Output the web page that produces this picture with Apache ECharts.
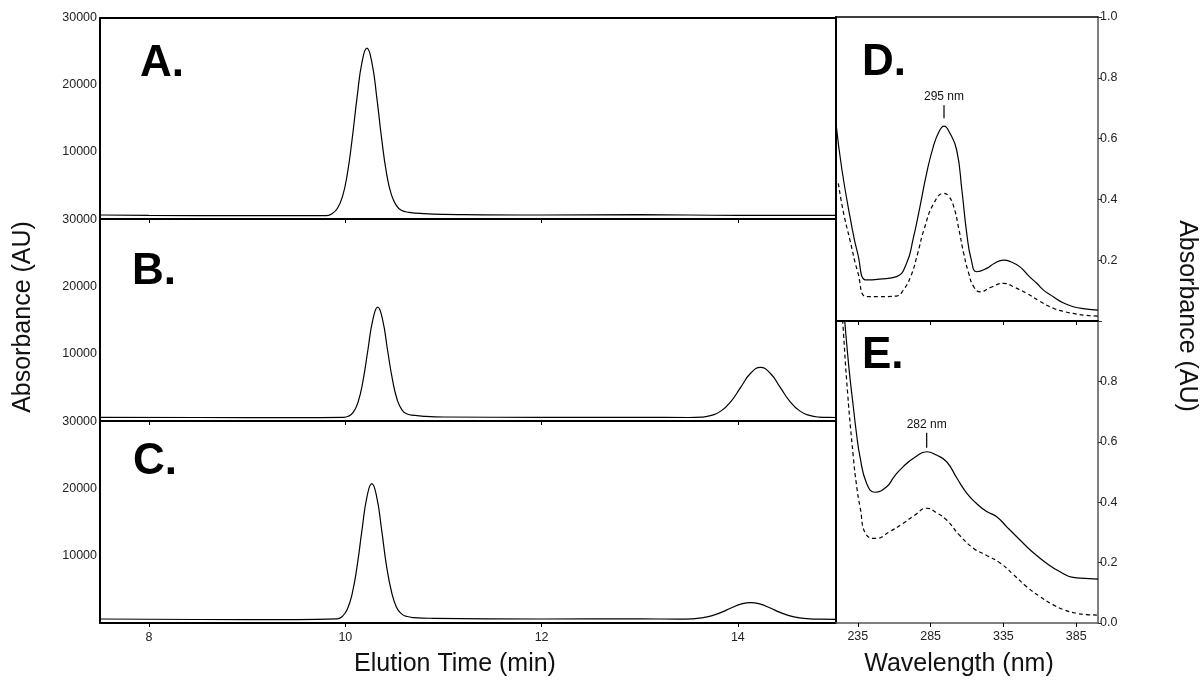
<!DOCTYPE html>
<html>
<head>
<meta charset="utf-8">
<title>HPLC and UV spectra</title>
<script src="https://cdn.jsdelivr.net/npm/echarts@6/dist/echarts.min.js"></script>
<style>
  html, body { margin: 0; padding: 0; background: #fff; }
  #main { width: 1201px; height: 685px; }
</style>
</head>
<body>
<div id="main"></div>
<script>
// chromatograms: [elution time (min), absorbance]
var traceA = [
  [7.5, 600], [8, 550], [9, 500], [9.8, 500], [9.87, 850], [9.92, 1600], [9.97, 3300],
  [10.02, 6700], [10.07, 12000], [10.12, 18200], [10.17, 23400], [10.22, 25500],
  [10.27, 23400], [10.32, 18200], [10.37, 12000], [10.42, 6800], [10.47, 3600],
  [10.52, 2000], [10.57, 1300], [10.65, 1000], [10.8, 800], [11, 700], [12, 600],
  [13, 650], [14, 550], [15, 550]
];
var traceB = [
  [7.5, 550], [8.5, 520], [9.5, 500], [9.98, 550], [10.03, 700], [10.08, 1280],
  [10.13, 2830], [10.18, 6000], [10.23, 10600], [10.28, 15100], [10.33, 17000],
  [10.38, 15100], [10.43, 10600], [10.48, 6200], [10.53, 3100], [10.58, 1600],
  [10.63, 1050], [10.7, 850], [10.8, 700], [11, 600], [12, 550], [13, 550],
  [13.5, 520], [13.63, 580], [13.73, 830], [13.83, 1510], [13.93, 2940], [14.03, 5050],
  [14.13, 7120], [14.23, 8000], [14.33, 7120], [14.43, 5050], [14.53, 2940],
  [14.63, 1510], [14.73, 830], [14.83, 580], [14.93, 530], [15, 520]
];
var traceC = [
  [7.5, 600], [8.5, 520], [9.5, 500], [9.92, 620], [9.97, 990], [10.02, 2050],
  [10.07, 4400], [10.12, 8500], [10.17, 13900], [10.22, 18800], [10.27, 20800],
  [10.32, 18800], [10.37, 13900], [10.42, 8500], [10.47, 4700], [10.52, 2400],
  [10.57, 1400], [10.62, 1000], [10.7, 800], [10.9, 700], [12, 600], [13, 620],
  [13.4, 570], [13.53, 620], [13.63, 760], [13.73, 1060], [13.83, 1580], [13.93, 2230],
  [14.03, 2810], [14.13, 3050], [14.23, 2810], [14.33, 2230], [14.43, 1580],
  [14.53, 1060], [14.63, 760], [14.73, 620], [14.83, 570], [15, 550]
];

// UV spectra: [wavelength (nm), absorbance]
var specDsolid = [
  [220, 0.65], [224, 0.5], [229.6, 0.343], [235, 0.22], [241, 0.135], [250, 0.138],
  [261.6, 0.146], [268.5, 0.19], [273, 0.27], [277.7, 0.376], [282, 0.48], [286.8, 0.573],
  [291, 0.625], [294.2, 0.641], [298, 0.62], [302.9, 0.5625], [306.5, 0.43], [309.8, 0.289],
  [313, 0.2], [316.7, 0.162], [323.5, 0.173], [329, 0.19], [335, 0.2], [340, 0.195],
  [346.4, 0.178], [352, 0.15], [357.9, 0.124], [363, 0.1], [369.3, 0.08], [376, 0.06],
  [383, 0.047], [391, 0.04], [400, 0.036]
];
var specDdash = [
  [221.6, 0.453], [225, 0.36], [229.6, 0.266], [235, 0.16], [241, 0.08], [250, 0.08],
  [261.6, 0.082], [266, 0.1], [271.3, 0.146], [276, 0.22], [280.4, 0.3], [287.3, 0.388],
  [294.2, 0.42], [297.5, 0.41], [300.9, 0.376], [304.5, 0.3], [307.7, 0.223], [311, 0.16],
  [314.6, 0.113], [319.2, 0.096], [326, 0.11], [335, 0.124], [343, 0.11], [351, 0.091],
  [360, 0.065], [369.3, 0.042], [376, 0.032], [383, 0.025], [391, 0.019], [400, 0.016]
];
var specEsolid = [
  [224, 1.12], [226, 1.0], [229, 0.84], [231.9, 0.716], [234, 0.63], [236.5, 0.55],
  [241, 0.463], [246.8, 0.433], [254.8, 0.451], [260, 0.485], [266.2, 0.518], [274, 0.548],
  [282.3, 0.567], [289, 0.556], [296, 0.534], [303, 0.48], [309.8, 0.43], [316, 0.398],
  [323.5, 0.369], [330.4, 0.352], [338, 0.315], [346.4, 0.275], [355, 0.235], [364.7, 0.198],
  [373, 0.172], [383, 0.151], [391, 0.148], [400, 0.145]
];
var specEdash = [
  [223, 1.12], [224.6, 1.0], [228, 0.76], [231.9, 0.55], [234, 0.46], [236.5, 0.385],
  [241, 0.291], [247.8, 0.28], [256, 0.3], [266.2, 0.33], [274, 0.357], [282.3, 0.38],
  [289, 0.365], [296, 0.341], [305, 0.29], [314.6, 0.247], [323, 0.225], [332.9, 0.198],
  [342, 0.16], [351, 0.12], [360, 0.088], [369.3, 0.06], [377, 0.043], [385.3, 0.032],
  [392, 0.028], [400, 0.026]
];

var timeTicks = [8, 10, 12, 14];
var waveTicks = [235, 285, 335, 385];
var peakD = { nm: 294.2, abs: 0.641, text: '295 nm' };
var peakE = { nm: 282.3, abs: 0.567, text: '282 nm' };

var chart = echarts.init(document.getElementById('main'));
var font = 'Liberation Sans, Arial, sans-serif';

function timeAxis(grid, withLabels) {
  return {
    type: 'value', gridIndex: grid, position: 'bottom', min: 7.5, max: 15,
    axisLine: { lineStyle: { color: '#000', width: 2 } },
    axisTick: { show: true, length: 4, customValues: timeTicks, lineStyle: { color: '#000', width: 1 } },
    axisLabel: { show: withLabels, customValues: timeTicks, margin: 8, color: '#222', fontSize: 12.5, fontFamily: font },
    splitLine: { show: false }
  };
}
function countAxis(grid) {
  return {
    type: 'value', gridIndex: grid, position: 'left', min: 0, max: 30000, interval: 10000,
    axisLine: { show: true, lineStyle: { color: '#000', width: 2 } },
    axisTick: { show: false },
    axisLabel: { margin: 3, color: '#222', fontSize: 12.5, fontFamily: font,
      formatter: function (v) { return v === 0 ? '' : String(v); } },
    splitLine: { show: false }
  };
}
function waveAxis(grid, withLabels) {
  return {
    type: 'value', gridIndex: grid, position: 'bottom', min: 220, max: 400,
    axisLine: { lineStyle: { color: withLabels ? '#555' : '#000', width: withLabels ? 1.5 : 2 } },
    axisTick: { show: true, length: 4, customValues: waveTicks, lineStyle: { color: '#000', width: 1 } },
    axisLabel: { show: withLabels, customValues: waveTicks, margin: 7, color: '#222', fontSize: 12.5, fontFamily: font },
    splitLine: { show: false }
  };
}
function absAxis(grid, hide) {
  return {
    type: 'value', gridIndex: grid, position: 'right', min: 0, max: 1, interval: 0.2,
    axisLine: { show: true, lineStyle: { color: '#555', width: 1.5 } },
    axisTick: { show: true, length: 4, lineStyle: { color: '#333' } },
    axisLabel: { margin: 2, color: '#222', fontSize: 12.5, fontFamily: font,
      formatter: function (v) { return Math.abs(v - hide) < 1e-6 ? '' : v.toFixed(1); } },
    splitLine: { show: false }
  };
}
function borderAxis(type, grid, position, min, max, width) {
  return {
    type: 'value', gridIndex: grid, position: position, min: min, max: max,
    axisLine: { show: true, onZero: false, lineStyle: { color: '#000', width: width } },
    axisTick: { show: false }, axisLabel: { show: false }, splitLine: { show: false }
  };
}
function curve(name, data, xi, yi, dashed) {
  return {
    name: name, type: 'line', data: data, xAxisIndex: xi, yAxisIndex: yi,
    showSymbol: false, smooth: 0.5, silent: true,
    lineStyle: { color: '#000', width: 1.2, type: dashed ? [4, 3] : 'solid' }
  };
}
function peakMark(p, gap, len) {
  return {
    silent: true, symbol: 'rect', symbolSize: [1.2, len],
    symbolOffset: [0, -(gap + len / 2)],
    itemStyle: { color: '#000' },
    label: { show: true, position: 'top', distance: 2, formatter: p.text,
      color: '#111', fontSize: 12, fontFamily: font },
    data: [{ coord: [p.nm, p.abs] }]
  };
}
function letter(t, x, y) {
  return { type: 'text', left: x, top: y - 22, style: { text: t, fill: '#000',
    font: 'bold 44px Liberation Sans, Arial, sans-serif' } };
}
function title(t, x, y, rot) {
  return { type: 'text', x: x, y: y, rotation: rot, style: { text: t, fill: '#111',
    font: '25px Liberation Sans, Arial, sans-serif', align: 'center', verticalAlign: 'middle' } };
}

var dSolid = curve('D', specDsolid, 4, 3, false);
dSolid.markPoint = peakMark(peakD, 8, 13);
var eSolid = curve('E', specEsolid, 5, 4, false);
eSolid.markPoint = peakMark(peakE, 4, 15);

var option = {
  animation: false,
  backgroundColor: '#fff',
  grid: [
    { left: 100, top: 18, width: 736, height: 201 },
    { left: 100, top: 220, width: 736, height: 201 },
    { left: 100, top: 422, width: 736, height: 201 },
    { left: 836, top: 17, width: 262, height: 304 },
    { left: 836, top: 321, width: 262, height: 302 }
  ],
  xAxis: [
    timeAxis(0, false), timeAxis(1, false), timeAxis(2, true),
    borderAxis('x', 0, 'top', 7.5, 15, 2),
    waveAxis(3, false), waveAxis(4, true),
    borderAxis('x', 3, 'top', 220, 400, 1.5)
  ],
  yAxis: [
    countAxis(0), countAxis(1), countAxis(2),
    absAxis(3, 0), absAxis(4, 1),
    borderAxis('y', 3, 'left', 0, 1, 2),
    borderAxis('y', 4, 'left', 0, 1, 2)
  ],
  series: [
    curve('A', traceA, 0, 0, false),
    curve('B', traceB, 1, 1, false),
    curve('C', traceC, 2, 2, false),
    dSolid,
    curve('D dashed', specDdash, 4, 3, true),
    eSolid,
    curve('E dashed', specEdash, 5, 4, true)
  ],
  graphic: [
    letter('A.', 140, 64), letter('B.', 132, 272), letter('C.', 133, 462),
    letter('D.', 862, 63), letter('E.', 862, 356),
    title('Absorbance (AU)', 23, 317, Math.PI / 2),
    title('Absorbance (AU)', 1187, 316, -Math.PI / 2),
    title('Elution Time (min)', 455, 664, 0),
    title('Wavelength (nm)', 959, 664, 0)
  ]
};
chart.setOption(option);
</script>
</body>
</html>
